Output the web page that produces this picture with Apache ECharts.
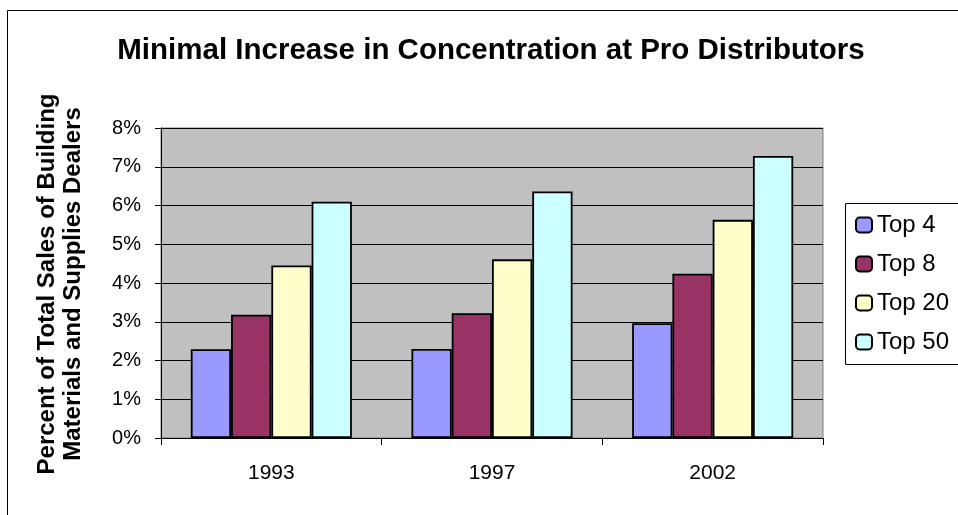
<!DOCTYPE html>
<html>
<head>
<meta charset="utf-8">
<script src="https://cdn.jsdelivr.net/npm/echarts@6/dist/echarts.min.js"></script>
<style>
  html, body { margin: 0; padding: 0; background: #ffffff; }
  #chart { width: 958px; height: 515px; }
</style>
</head>
<body>
<div id="chart"></div>
<script>
// Census years on the category axis
const years = ['1993', '1997', '2002'];

// Share of total sales (%) held by the largest dealers
const top4 = [2.29, 2.30, 2.96];
const top8 = [3.18, 3.22, 4.24];
const top20 = [4.45, 4.61, 5.63];
const top50 = [6.10, 6.36, 7.28];

const seriesNames = ['Top 4', 'Top 8', 'Top 20', 'Top 50'];
const seriesColors = ['#9999FF', '#993366', '#FFFFCC', '#CCFFFF'];

// Percentage axis ticks
const yTicks = [0, 1, 2, 3, 4, 5, 6, 7, 8];

const font = 'Arial, "Liberation Sans", sans-serif';

const chart = echarts.init(document.getElementById('chart'), null, { renderer: 'canvas' });

const seriesData = [top4, top8, top20, top50];

chart.setOption({
  backgroundColor: '#ffffff',
  animation: false,
  title: {
    text: 'Minimal Increase in Concentration at Pro Distributors',
    left: 486,
    top: 31,
    textAlign: 'center',
    textStyle: { fontFamily: font, fontSize: 29.5, fontWeight: 'bold', color: '#000' }
  },
  grid: {
    left: 161,
    right: 135,
    top: 128,
    bottom: 77,
    show: true,
    backgroundColor: '#C0C0C0',
    borderColor: '#808080',
    borderWidth: 1
  },
  legend: {
    orient: 'vertical',
    left: 855,
    top: 212,
    padding: 0,
    itemWidth: 16,
    itemHeight: 15,
    itemGap: 13,
    data: seriesNames,
    textStyle: { fontFamily: font, fontSize: 24, color: '#000', lineHeight: 26, padding: [0, 0, 0, 0] }
  },
  xAxis: {
    type: 'category',
    data: years,
    axisLine: { lineStyle: { color: '#000', width: 1 } },
    axisTick: { show: true, alignWithLabel: false, length: 7, lineStyle: { color: '#000' } },
    axisLabel: { fontFamily: font, fontSize: 21, color: '#000', margin: 25 },
    splitLine: { show: false }
  },
  yAxis: {
    type: 'value',
    min: yTicks[0],
    max: yTicks[yTicks.length - 1],
    interval: 1,
    axisLine: { show: true, lineStyle: { color: '#000', width: 1 } },
    axisTick: { show: true, length: 6, lineStyle: { color: '#000' } },
    axisLabel: {
      fontFamily: font, fontSize: 20, color: '#000', margin: 20,
      formatter: v => v + '%'
    },
    splitLine: { show: true, lineStyle: { color: '#000', width: 1 } }
  },
  graphic: [
    {
      type: 'rect',
      silent: true,
      shape: { x: 7.5, y: 10.5, width: 1000, height: 600 },
      style: { fill: 'none', stroke: '#000', lineWidth: 1 },
      z: -1
    },
    {
      type: 'rect',
      silent: true,
      shape: { x: 845.5, y: 203.5, width: 200, height: 161 },
      style: { fill: '#ffffff', stroke: '#000', lineWidth: 1 },
      z: -1
    },
    {
      type: 'text',
      x: 60,
      y: 284,
      rotation: Math.PI / 2,
      style: {
        text: 'Percent of Total Sales of Building\nMaterials and Supplies Dealers',
        fontFamily: font,
        fontSize: 24,
        fontWeight: 'bold',
        lineHeight: 26,
        fill: '#000',
        align: 'center',
        verticalAlign: 'middle'
      }
    }
  ],
  series: seriesNames.map((name, i) => ({
    name: name,
    type: 'bar',
    data: seriesData[i],
    barGap: '0%',
    barCategoryGap: '27%',
    itemStyle: { color: seriesColors[i], borderColor: '#000', borderWidth: 1.8 }
  }))
});
</script>
</body>
</html>
